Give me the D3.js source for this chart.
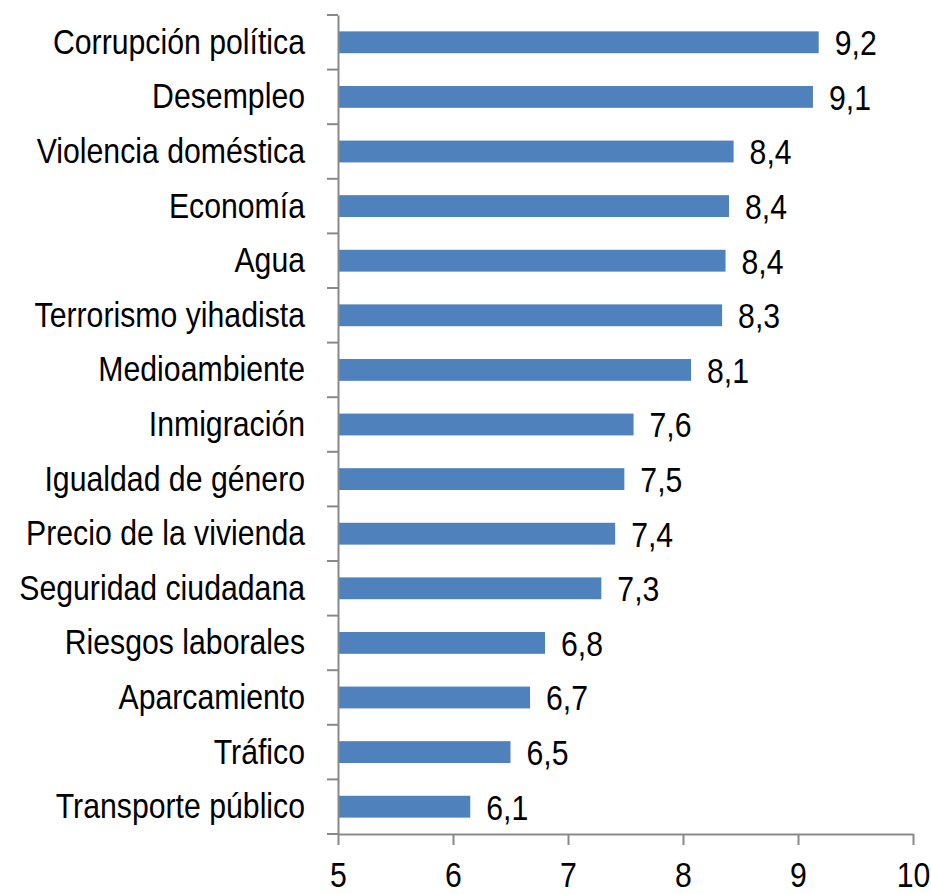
<!DOCTYPE html>
<html>
<head>
<meta charset="utf-8">
<script src="https://cdn.jsdelivr.net/npm/d3@7"></script>
<style>
	body { margin: 0; background: #fff; }
	text { font-family: "Liberation Sans Narrow", "Arial Narrow", "Liberation Sans", Arial, sans-serif; fill: #000; }
</style>
</head>
<body>
<svg id="chart" width="931" height="894"></svg>
<script>
(function () {
	var categories = ['Corrupción política', 'Desempleo', 'Violencia doméstica', 'Economía', 'Agua',
			'Terrorismo yihadista', 'Medioambiente', 'Inmigración', 'Igualdad de género',
			'Precio de la vivienda', 'Seguridad ciudadana', 'Riesgos laborales', 'Aparcamiento',
			'Tráfico', 'Transporte público'],

		values = [9.18, 9.13, 8.44, 8.40, 8.37, 8.34, 8.07, 7.57, 7.49, 7.41, 7.29, 6.80, 6.67, 6.50, 6.15],

		valueLabels = ['9,2', '9,1', '8,4', '8,4', '8,4', '8,3', '8,1', '7,6', '7,5', '7,4', '7,3', '6,8', '6,7', '6,5', '6,1'],

		xTicks = [5, 6, 7, 8, 9, 10],

		margin = {top: 15, right: 18, bottom: 60, left: 338},
		width = 931 - margin.left - margin.right,
		height = 894 - margin.top - margin.bottom,
		axisColor = '#898989',
		fontSize = '36px',
		narrow = 0.84, // no narrow font installed, squeeze regular sans instead

		svg = d3.select('#chart'),
		g = svg.append('g').attr('transform', 'translate(' + margin.left + ',' + margin.top + ')'),

		x = d3.scaleLinear().domain([5, 10]).range([0, width]),

		y = d3.scaleBand().domain(categories).range([0, height])
			.paddingInner(0.6).paddingOuter(0.3);

	// bars
	g.selectAll('rect.bar')
		.data(categories)
		.enter().append('rect')
		.attr('class', 'bar')
		.attr('x', x(5))
		.attr('y', function (d) { return y(d); })
		.attr('width', function (d, i) { return x(values[i]) - x(5); })
		.attr('height', y.bandwidth())
		.attr('fill', '#4f81bd');

	// value labels
	g.selectAll('text.val')
		.data(categories)
		.enter().append('text')
		.attr('class', 'val')
		.attr('transform', function (d, i) {
			return 'translate(' + (x(values[i]) + 16) + ',' + (y(d) + y.bandwidth() / 2) + ') scale(' + narrow + ',1)';
		})
		.attr('dy', '0.36em')
		.style('font-size', fontSize)
		.text(function (d, i) { return valueLabels[i]; });

	// x axis
	var xAxis = g.append('g')
		.attr('transform', 'translate(0,' + height + ')')
		.call(d3.axisBottom(x).tickValues(xTicks).tickFormat(d3.format('d'))
			.tickSize(11).tickSizeOuter(0).tickPadding(16));
	xAxis.select('.domain').attr('stroke', axisColor).attr('stroke-width', 2);
	xAxis.selectAll('.tick line').attr('stroke', axisColor).attr('stroke-width', 2);
	xAxis.selectAll('.tick text')
		.style('font-size', fontSize)
		.attr('fill', '#000')
		.attr('transform', 'scale(' + narrow + ',1)');

	// y axis (labels only, boundary ticks drawn below)
	var yAxis = g.append('g')
		.call(d3.axisLeft(y).tickSize(0).tickPadding(33));
	yAxis.select('.domain').attr('stroke', axisColor).attr('stroke-width', 2);
	yAxis.selectAll('.tick text')
		.style('font-size', fontSize)
		.attr('fill', '#000')
		.attr('x', -33 / narrow)
		.attr('transform', 'scale(' + narrow + ',1)');

	var bounds = categories.map(function (d) { return y(d) - y.step() * 0.3; }).concat([height]);
	g.selectAll('line.ytick')
		.data(bounds)
		.enter().append('line')
		.attr('class', 'ytick')
		.attr('x1', -11).attr('x2', 0)
		.attr('y1', function (d) { return d; })
		.attr('y2', function (d) { return d; })
		.attr('stroke', axisColor)
		.attr('stroke-width', 2);
})();
</script>
</body>
</html>
